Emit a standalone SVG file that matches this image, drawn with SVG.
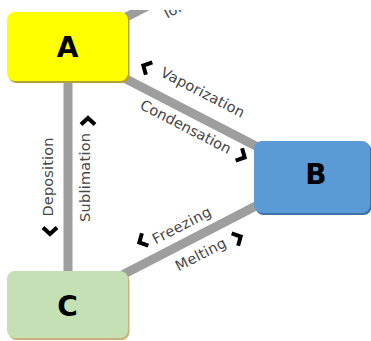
<svg xmlns="http://www.w3.org/2000/svg" width="371" height="341" viewBox="0 0 371 341">
  <style>
    .edge { stroke: #9e9e9e; stroke-width: 9; fill: none; }
    .lbl { font-family: "DejaVu Sans", Verdana, sans-serif; font-size: 14.5px; fill: #474747; text-anchor: middle; }
    .chev { stroke: #000; stroke-width: 4; fill: none; stroke-linejoin: miter; }
    .node-t { font-family: "DejaVu Sans", Verdana, sans-serif; font-size: 28px; font-weight: bold; fill: #000; text-anchor: middle; }
  </style>
  <defs>
    <path id="chev" d="M3.5,-7 L-3,0 L3.5,7"/>
    <clipPath id="topclip"><rect x="0" y="10" width="371" height="331"/></clipPath>
  </defs>
  <rect width="371" height="341" fill="#fff"/>

  <g id="connectors">
    <g clip-path="url(#topclip)">
      <line class="edge" x1="68" y1="47" x2="200" y2="-21"/>
      <text class="lbl" style="text-anchor:start" transform="translate(167,18.8) rotate(-27.3)">Ionization</text>
    </g>
    <line class="edge" x1="68" y1="49" x2="312" y2="175"/>
    <line class="edge" x1="68" y1="47" x2="68" y2="305"/>
    <line class="edge" x1="68" y1="303" x2="312" y2="177"/>

    <text class="lbl" textLength="92" lengthAdjust="spacing" transform="translate(200.5,96.8) rotate(27.3)">Vaporization</text>
    <text class="lbl" textLength="100" lengthAdjust="spacing" transform="translate(183.5,131.3) rotate(27.3)">Condensation</text>
    <text class="lbl" textLength="79" lengthAdjust="spacing" transform="translate(52.5,177) rotate(-90)">Deposition</text>
    <text class="lbl" textLength="89" lengthAdjust="spacing" transform="translate(89.5,177.5) rotate(-90)">Sublimation</text>
    <text class="lbl" textLength="64" lengthAdjust="spacing" transform="translate(184,229.8) rotate(-27.3)">Freezing</text>
    <text class="lbl" textLength="55" lengthAdjust="spacing" transform="translate(203,258.8) rotate(-27.3)">Melting</text>

    <use href="#chev" class="chev" transform="translate(146,67) rotate(27.3)"/>
    <use href="#chev" class="chev" transform="translate(242,156) rotate(27.3) scale(-1,1)"/>
    <use href="#chev" class="chev" transform="translate(142,241) rotate(-27.3)"/>
    <use href="#chev" class="chev" transform="translate(238,238) rotate(-27.3) scale(-1,1)"/>
    <use href="#chev" class="chev" transform="translate(88,121) rotate(90)"/>
    <use href="#chev" class="chev" transform="translate(50,231) rotate(-90)"/>
  </g>

  <g id="node-A">
    <rect x="8.5" y="14" width="121" height="69" rx="8" fill="#b5a13a"/>
    <rect x="7" y="12" width="121" height="69" rx="8" fill="#ffff00"/>
    <text class="node-t" x="67.5" y="57">A</text>
  </g>
  <g id="node-B">
    <rect x="255.5" y="143" width="116" height="72" rx="8" fill="#3f72a6"/>
    <rect x="254" y="141" width="116" height="72" rx="8" fill="#5b9bd5"/>
    <text class="node-t" x="316" y="184">B</text>
  </g>
  <g id="node-C">
    <rect x="8.5" y="273" width="121" height="67" rx="8" fill="#c9b27c"/>
    <rect x="7" y="271" width="121" height="67" rx="8" fill="#c5e0b4"/>
    <text class="node-t" x="67.5" y="316">C</text>
  </g>
</svg>
